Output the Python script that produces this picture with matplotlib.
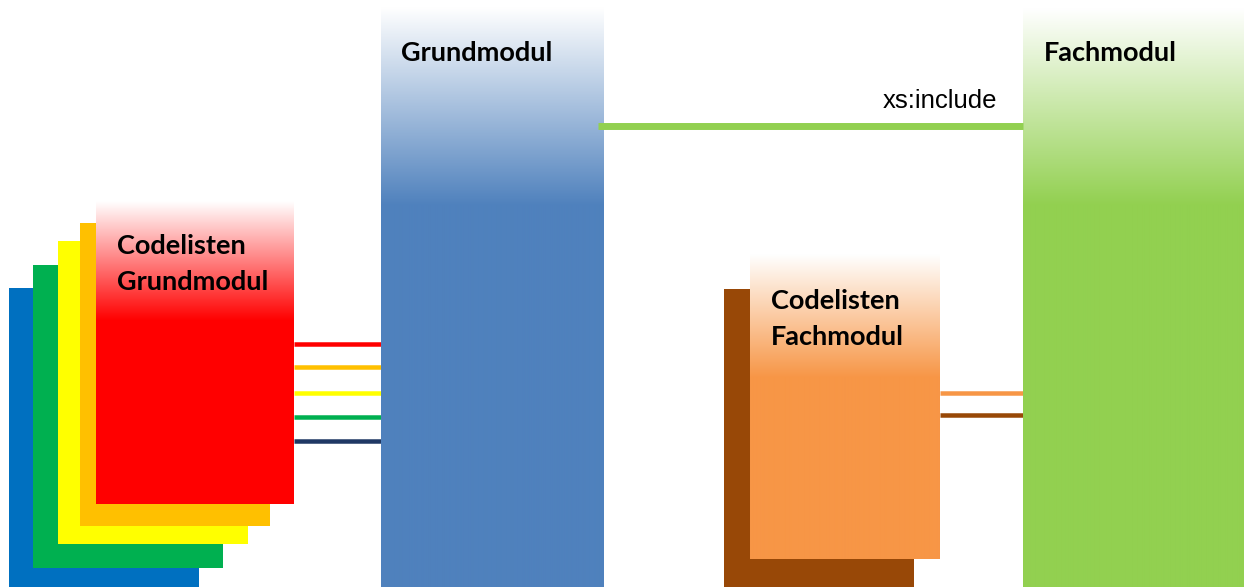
import numpy as np
import matplotlib
matplotlib.use("Agg")
import matplotlib.pyplot as plt
from matplotlib.colors import to_rgb

W, H = 1244, 587

# stacked code-list sheets behind the front ones: (x0, x1, top, bottom, colour)
sheets = [
    (9, 199, 288, 587, "#0070C0"),
    (33, 223, 265, 568, "#00B050"),
    (58, 248, 241, 544, "#FFFF00"),
    (80, 270, 223, 526, "#FFC000"),
    (724, 914, 289, 587, "#984807"),
]

# gradient boxes: (x0, x1, top, fade_end, bottom, colour)
boxes = [
    (96, 294, 201, 320, 504, "#FF0000"),
    (381, 604, 7, 205, 587, "#4F81BD"),
    (1023, 1244, 8, 205, 587, "#92D050"),
    (750, 940, 254, 377, 559, "#F79646"),
]

# connectors: (x0, x1, y, width, colour)
links = [
    (294, 381, 344, 4.5, "#FF0000"),
    (294, 381, 367, 4.5, "#FFC000"),
    (294, 381, 393, 4.5, "#FFFF00"),
    (294, 381, 417, 4.5, "#00B050"),
    (294, 381, 441, 4.5, "#1F3864"),
    (940, 1023, 393, 4.5, "#F79646"),
    (940, 1023, 415, 4.5, "#984807"),
]

# labels: (x, y, text)
labels = [
    (117, 246, "Codelisten"),
    (117, 282, "Grundmodul"),
    (401, 53, "Grundmodul"),
    (1044, 53, "Fachmodul"),
    (771, 301, "Codelisten"),
    (771, 337, "Fachmodul"),
]

fig = plt.figure(figsize=(W / 100, H / 100), dpi=100)
ax = fig.add_axes([0, 0, 1, 1])
ax.set_xlim(0, W)
ax.set_ylim(H, 0)
ax.axis("off")

for x0, x1, top, bot, col in sheets:
    ax.add_patch(plt.Rectangle((x0, top), x1 - x0, bot - top, color=col, lw=0))

for x0, x1, top, fade, bot, col in boxes:
    n = bot - top
    t = np.clip(np.arange(n) / (fade - top), 0, 1)
    base = np.array(to_rgb(col))
    rgb = (1 - t)[:, None] * np.ones(3) + t[:, None] * base
    img = np.repeat(rgb[:, None, :], 2, axis=1)
    ax.imshow(img, extent=(x0, x1, bot, top), aspect="auto", interpolation="bilinear", zorder=2)

for x0, x1, y, lw, col in links:
    ax.plot([x0, x1], [y, y], color=col, lw=lw * 0.72, solid_capstyle="butt", zorder=1)

# xs:include connector overlaps the Grundmodul edge
ax.plot([598, 1023], [126, 126], color="#92D050", lw=5.0, solid_capstyle="butt", zorder=2.5)

for x, y, s in labels:
    ax.text(x, y, s, fontsize=19.5, fontweight="bold", family="Lato", va="center", ha="left", zorder=3)

ax.text(997, 101, "xs:include", fontsize=18.5, family="Liberation Sans", va="center", ha="right", zorder=3)

ax.set_xlim(0, W)
ax.set_ylim(H, 0)
fig.savefig("out.png", dpi=100)
